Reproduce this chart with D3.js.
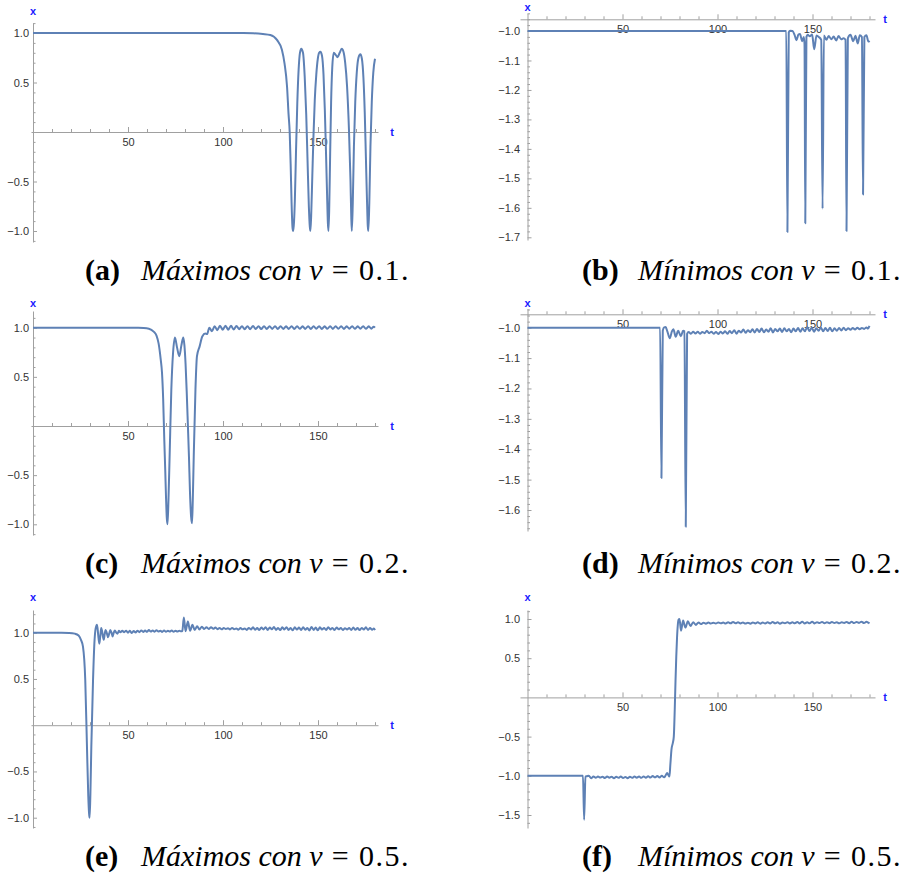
<!DOCTYPE html>
<html>
<head>
<meta charset="utf-8">
<script src="https://cdn.jsdelivr.net/npm/d3@7"></script>
<style>
  body { margin: 0; background: #fff; }
  svg { display: block; }
</style>
</head>
<body>
<svg id="fig" width="912" height="881"></svg>
<script>
// ---- data: [t, x] ----
const maxV01 = [[0,1],[100,1],[110,0.999],[116,0.997],[121,0.99],[124.9,0.98],[128.4,0.93],[131,0.83],[132.4,0.69],[133.7,0.46],[134.5,0.18],[135.1,0],[135.6,-0.32],[136.1,-0.72],[136.6,-0.97],[137,-1],[137.4,-0.9],[137.8,-0.7],[138.4,-0.22],[139.1,0.29],[139.8,0.63],[140.5,0.8],[141.2,0.84],[142.1,0.8],[143,0.56],[143.8,0.18],[144.5,-0.29],[145.2,-0.76],[145.7,-0.96],[146,-1],[146.4,-0.85],[147,-0.45],[147.6,-0.05],[148.3,0.32],[149.1,0.58],[149.9,0.74],[150.6,0.8],[151.3,0.81],[152.1,0.77],[152.9,0.58],[153.6,0.22],[154.2,-0.2],[154.8,-0.65],[155.2,-0.92],[155.5,-1],[155.9,-0.78],[156.4,-0.22],[156.9,0.3],[157.5,0.65],[158.3,0.8],[159.3,0.78],[160.3,0.755],[161.4,0.8],[162.5,0.84],[163.4,0.81],[164.3,0.7],[165.3,0.46],[166.3,0.02],[167.1,-0.49],[167.5,-0.85],[167.8,-1],[168.3,-0.72],[168.9,-0.15],[169.6,0.3],[170.4,0.6],[171.3,0.75],[172.3,0.785],[173.1,0.74],[173.9,0.55],[174.6,0.2],[175.2,-0.25],[175.8,-0.7],[176.2,-0.95],[176.5,-1],[177,-0.72],[177.6,-0.15],[178.3,0.3],[179.1,0.6],[180,0.74]];

const minV01 = [[0,-1],[136.2,-1],[136.8,-1.682],[137.5,-1.005],[138.2,-0.999],[139.5,-1],[140.5,-1.012],[141.6,-1.031],[142.6,-1.012],[143.4,-1.01],[144.6,-1.035],[145.4,-1.02],[145.8,-1.045],[146.2,-1.652],[146.8,-1.02],[147.5,-1.013],[148.6,-1.018],[149.8,-1.012],[150.9,-1.062],[152.1,-1.015],[153.3,-1.02],[154.6,-1.03],[155.3,-1.603],[156,-1.015],[157.3,-1.03],[158.5,-1.017],[159.9,-1.028],[161.1,-1.019],[162.5,-1.032],[163.7,-1.017],[165.1,-1.028],[166.3,-1.025],[167.4,-1.03],[167.9,-1.679],[168.6,-1.025],[170,-1.013],[171.4,-1.035],[172.6,-1.016],[173.8,-1.042],[174.9,-1.014],[176,-1.02],[176.6,-1.555],[177.3,-1.02],[178.4,-1.014],[179.4,-1.036],[180,-1.033]];

const maxV02 = [[0,1],[50,1],[55,0.999],[58.2,0.997],[61,0.99],[63.5,0.96],[65,0.92],[66.1,0.84],[67.2,0.68],[67.9,0.54],[68.5,0.28],[69.1,-0.14],[69.6,-0.45],[70,-0.72],[70.4,-0.93],[70.8,-1],[71.3,-0.75],[71.9,-0.31],[72.8,0.37],[73.7,0.74],[74.7,0.9],[75.8,0.8],[77,0.71],[78.1,0.82],[79.1,0.9],[79.7,0.82],[80.3,0.63],[80.9,0.35],[81.5,0.02],[82.1,-0.32],[82.6,-0.66],[83.2,-0.92],[83.7,-0.99],[84.1,-0.75],[84.6,-0.31],[85.5,0.37],[86.3,0.71],[87.7,0.81],[89.1,0.91],[90.7,0.94],[91.6,0.935],[92.8,1],[94.2,0.965],[95.6,1.015],[97,0.975],[98.4,1.02],[99.9,0.98],[101.3,1.02],[102.8,0.98],[104.2,1.02],[105.6,0.982],[107.1,1.018],[108.5,0.985],[110,1.016],[111.4,0.985],[112.9,1.016],[114.3,0.985],[115.8,1.017],[117.2,0.987],[118.7,1.015],[120.1,0.986],[121.6,1.016],[123,0.987],[124.5,1.015],[125.9,0.988],[127.4,1.016],[128.8,0.987],[130.3,1.015],[131.7,0.988],[133.2,1.014],[134.6,0.988],[136.1,1.016],[137.5,0.987],[139,1.015],[140.4,0.989],[141.9,1.014],[143.3,0.988],[144.8,1.016],[146.2,0.988],[147.7,1.015],[149.1,0.989],[150.6,1.016],[152,0.988],[153.5,1.014],[154.9,0.989],[156.4,1.015],[157.8,0.988],[159.3,1.016],[160.7,0.989],[162.2,1.015],[163.6,0.988],[165.1,1.014],[166.5,0.99],[168,1.015],[169.4,0.989],[170.9,1.014],[172.3,0.99],[173.8,1.015],[175.2,0.989],[176.7,1.014],[178.1,0.99],[179.3,1.01],[180,1]];

const minV02 = [[0,-1],[69.8,-1],[70.5,-1.495],[71.2,-1.01],[71.9,-0.999],[72.7,-0.998],[73.6,-1.012],[74.9,-1.035],[76,-1.012],[76.8,-1.005],[78,-1.03],[79.3,-1.01],[80.7,-1.028],[81.9,-1.01],[82.6,-1.012],[83.3,-1.655],[84,-1.02],[84.8,-1.014],[86,-1.02],[87.2,-1.013],[88.4,-1.019],[89.6,-1.013],[90.8,-1.02],[92,-1.014],[93.2,-1.018],[94.4,-1.01],[95.6,-1.018],[96.8,-1.013],[98,-1.02],[99.2,-1.014],[100.4,-1.021],[101.6,-1.013],[102.8,-1.019],[104,-1.012],[105.2,-1.02],[106.4,-1.011],[107.6,-1.018],[108.8,-1.008],[110,-1.02],[111.2,-1.01],[112.4,-1.016],[113.6,-1.006],[114.8,-1.017],[116,-1.008],[117.2,-1.015],[118.4,-1.005],[119.6,-1.016],[120.8,-1.004],[122,-1.014],[123.2,-1.003],[124.4,-1.015],[125.6,-1.006],[126.8,-1.013],[128,-1.002],[129.2,-1.016],[130.4,-1.004],[131.6,-1.012],[132.8,-1.003],[134,-1.014],[135.2,-1.002],[136.4,-1.012],[137.6,-1.004],[138.8,-1.015],[140,-1.003],[141.2,-1.012],[142.4,-1.001],[143.6,-1.013],[144.8,-1.002],[146,-1.012],[147.2,-0.998],[148.4,-1.011],[149.6,-1],[150.8,-1.013],[152,-1.002],[153.2,-1.01],[154.4,-0.999],[155.6,-1.012],[156.8,-1.001],[158,-1.011],[159.2,-1],[160.4,-1.012],[161.6,-1.002],[162.8,-1.01],[164,-1.001],[165.2,-1.009],[166.4,-1],[167.6,-1.008],[168.8,-1.002],[170,-1.007],[171.2,-1.001],[172.4,-1.006],[173.6,-1],[174.8,-1.005],[176,-1.001],[177.2,-1.004],[178.4,-0.999],[179.2,-1.003],[180,-0.994]];

const maxV05 = [[0,1],[15,1],[19,0.998],[22,0.99],[24,0.97],[25.3,0.92],[26.3,0.85],[27.5,0.49],[28.4,-0.23],[29.1,-0.77],[29.5,-0.95],[29.8,-1],[30.2,-0.75],[30.7,-0.23],[31.6,0.49],[32.4,0.92],[33,1.05],[33.7,1.087],[34.3,0.98],[34.9,0.88],[35.4,0.96],[35.9,1.05],[36.5,1],[37.2,0.924],[37.7,0.98],[38.2,1.03],[38.8,1],[39.5,0.95],[40.1,0.99],[40.7,1.03],[41.3,1],[41.9,0.96],[42.5,1],[43.1,1.025],[43.8,1],[44.5,0.99],[45.2,1.02],[46,1.005],[47,1.02],[48,1.005],[49,1.022],[50,1],[51,1.02],[52,0.997],[53,1.018],[54,1.003],[55,1.022],[56,1.006],[57,1.025],[58,1.008],[59,1.023],[60,1.01],[61,1.028],[62,1.012],[63,1.025],[64,1.01],[65,1.027],[66,1.012],[67,1.022],[68,1.008],[69,1.024],[70,1.01],[71,1.02],[72,1.012],[73,1.025],[74,1.01],[75,1.022],[76,1.012],[77,1.02],[78,1.015],[78.6,1.02],[79.4,1.165],[80.3,1.015],[81.5,1.12],[82.7,1.02],[83.9,1.085],[85.1,1.03],[86.4,1.07],[87.6,1.035],[88.9,1.065],[90.1,1.04],[91.3,1.058],[92.5,1.04],[93.7,1.06],[94.9,1.042],[96,1.055],[97.1,1.038],[98.2,1.052],[99.3,1.036],[100.4,1.05],[101.5,1.04],[102.6,1.048],[103.7,1.035],[104.8,1.052],[105.9,1.038],[107,1.045],[108.1,1.033],[109.2,1.05],[110.3,1.036],[111.4,1.046],[112.5,1.03],[113.6,1.052],[114.7,1.035],[115.8,1.058],[116.9,1.032],[118,1.05],[119.1,1.028],[120.2,1.056],[121.3,1.034],[122.4,1.06],[123.5,1.03],[124.6,1.055],[125.7,1.036],[126.8,1.062],[127.9,1.03],[129,1.052],[130.1,1.028],[131.2,1.058],[132.3,1.035],[133.4,1.06],[134.5,1.03],[135.6,1.05],[136.7,1.026],[137.8,1.058],[138.9,1.034],[140,1.055],[141.1,1.028],[142.2,1.06],[143.3,1.032],[144.4,1.052],[145.5,1.024],[146.6,1.062],[147.7,1.03],[148.8,1.055],[149.9,1.026],[151,1.058],[152.1,1.035],[153.2,1.05],[154.3,1.03],[155.4,1.06],[156.5,1.034],[157.6,1.052],[158.7,1.028],[159.8,1.056],[160.9,1.036],[162,1.05],[163.1,1.03],[164.2,1.048],[165.3,1.035],[166.4,1.05],[167.5,1.03],[168.6,1.055],[169.7,1.032],[170.8,1.05],[171.9,1.028],[173,1.052],[174.1,1.034],[175.2,1.058],[176.3,1.03],[177.4,1.05],[178.5,1.032],[179.4,1.045],[180,1.028]];

const minV05 = [[0,-1],[29.2,-1],[29.8,-1.56],[30.5,-1.01],[31.2,-1.005],[32.3,-0.998],[33.5,-1.03],[34.7,-1.008],[35.9,-1.025],[37.1,-1.01],[38.3,-1.022],[39.5,-1.012],[40.7,-1.028],[41.9,-1.01],[43.1,-1.024],[44.3,-1.012],[45.5,-1.03],[46.7,-1.012],[47.9,-1.026],[49.1,-1.01],[50.3,-1.028],[51.5,-1.014],[52.7,-1.03],[53.9,-1.012],[55.1,-1.026],[56.3,-1.01],[57.5,-1.024],[58.7,-1.01],[59.9,-1.026],[61.1,-1.008],[62.3,-1.024],[63.5,-1.006],[64.7,-1.022],[65.9,-1.004],[67.1,-1.02],[68.3,-1.002],[69.5,-1.022],[70.7,-1],[71.9,-1.02],[72.8,-0.99],[73.5,-0.965],[74.1,-0.99],[74.7,-1.01],[75.2,-0.85],[75.8,-0.66],[76.5,-0.58],[77,-0.5],[77.5,-0.15],[77.9,0.21],[78.3,0.52],[78.7,0.76],[79.1,0.92],[79.5,0.99],[80,1],[80.8,0.85],[81.9,0.98],[83.1,0.89],[84.4,0.97],[85.8,0.91],[87.2,0.96],[88.6,0.925],[90,0.955],[91.3,0.935],[92.6,0.952],[93.9,0.94],[95.2,0.955],[96.5,0.942],[97.8,0.952],[99.1,0.943],[100.4,0.955],[101.7,0.945],[103,0.954],[104.3,0.943],[105.6,0.958],[106.9,0.945],[108.2,0.962],[109.5,0.946],[110.8,0.958],[112.1,0.944],[113.4,0.955],[114.7,0.942],[116,0.953],[117.3,0.94],[118.6,0.955],[119.9,0.944],[121.2,0.957],[122.5,0.941],[123.8,0.955],[125.1,0.943],[126.4,0.958],[127.7,0.944],[129,0.962],[130.3,0.945],[131.6,0.957],[132.9,0.94],[134.2,0.955],[135.5,0.945],[136.8,0.96],[138.1,0.942],[139.4,0.958],[140.7,0.946],[142,0.962],[143.3,0.944],[144.6,0.965],[145.9,0.943],[147.2,0.958],[148.5,0.946],[149.8,0.966],[151.1,0.944],[152.4,0.96],[153.7,0.948],[155,0.963],[156.3,0.945],[157.6,0.96],[158.9,0.947],[160.2,0.962],[161.5,0.948],[162.8,0.958],[164.1,0.945],[165.4,0.96],[166.7,0.95],[168,0.962],[169.3,0.946],[170.6,0.965],[171.9,0.948],[173.2,0.962],[174.5,0.95],[175.8,0.966],[177.1,0.948],[178.4,0.964],[179.3,0.955],[180,0.945]];

// ---- ticks and captions ----
const tMajor = [50, 100, 150];
const tMinor = [10, 20, 30, 40, 60, 70, 80, 90, 110, 120, 130, 140, 160, 170, 180];
const yMajorMax = [1.0, 0.5, -0.5, -1.0];
const yMajorMinV01 = [-1.0, -1.1, -1.2, -1.3, -1.4, -1.5, -1.6, -1.7];
const yMajorMinV02 = [-1.0, -1.1, -1.2, -1.3, -1.4, -1.5, -1.6];
const yMajorMinV05 = [1.0, 0.5, -0.5, -1.0, -1.5];
const capTags = ["(a)", "(b)", "(c)", "(d)", "(e)", "(f)"];
const capWords = ["Máximos", "Mínimos", "Máximos", "Mínimos", "Máximos", "Mínimos"];
const capSpeeds = ["0.1", "0.1", "0.2", "0.2", "0.5", "0.5"];

const lineColor = "#5e81b5";
const axisColor = "#a0a0a0";
const labelColor = "#333";

// layout of each panel (pixels)
const panels = [
  {data: maxV01, ox: 33,    yDomain: [-1, 1],      yRange: [231, 33],      yTop: 23,    yBot: 242, xAxisAt: null,  yMajor: yMajorMax,    yStep: 0.1,  gap: 4,   xLab: 10.7},
  {data: minV01, ox: 527.5, yDomain: [-1.7, -1.0], yRange: [237.3, 31],    yTop: 13.3,  yBot: 240, xAxisAt: 19.3,  yMajor: yMajorMinV01, yStep: 0.02, gap: 7.5, xLab: 7.3},
  {data: maxV02, ox: 33,    yDomain: [-1, 1],      yRange: [524.3, 327.7], yTop: 311,   yBot: 535, xAxisAt: null,  yMajor: yMajorMax,    yStep: 0.1,  gap: 4,   xLab: 303.3},
  {data: minV02, ox: 527.5, yDomain: [-1.6, -1.0], yRange: [510, 327.7],   yTop: 308.5, yBot: 531, xAxisAt: 314.3, yMajor: yMajorMinV02, yStep: 0.02, gap: 7.5, xLab: 303.3},
  {data: maxV05, ox: 33,    yDomain: [-1, 1],      yRange: [817.7, 632.7], yTop: 610,   yBot: 828, xAxisAt: null,  yMajor: yMajorMax,    yStep: 0.1,  gap: 4,   xLab: 597.3},
  {data: minV05, ox: 527.5, yDomain: [-1.5, 1.0],  yRange: [815, 619],     yTop: 610,   yBot: 828, xAxisAt: null,  yMajor: yMajorMinV05, yStep: 0.1,  gap: 7.5, xLab: 597.3}
];

const svg = d3.select("#fig");

function styleAxis(g) {
  g.attr("font-family", "'Liberation Sans', Arial, sans-serif").attr("font-size", 11);
  g.selectAll(".domain").attr("stroke", axisColor).attr("stroke-width", 1);
  g.selectAll(".tick line").attr("stroke", axisColor).attr("stroke-width", 1);
  g.selectAll(".tick text").attr("fill", labelColor);
}

panels.forEach((p, i) => {
  const left = i % 2 === 0;
  const g = svg.append("g");

  const x = d3.scaleLinear().domain([0, 180]).range([p.ox, p.ox + 342]);
  const y = d3.scaleLinear().domain(p.yDomain).range(p.yRange);

  // axis extents
  const xLeft = left ? 31 : 520;
  const xRight = left ? 378 : 875;
  const xAx = d3.scaleLinear().domain([x.invert(xLeft), x.invert(xRight)]).range([xLeft, xRight]);
  const yAx = d3.scaleLinear().domain([y.invert(p.yBot), y.invert(p.yTop)]).range([p.yBot, p.yTop]);
  const axisY = p.xAxisAt === null ? y(0) : p.xAxisAt;

  // horizontal axis
  g.append("g")
    .attr("transform", `translate(0,${axisY})`)
    .call(d3.axisBottom(xAx).tickValues(tMajor).tickSizeInner(-5).tickSizeOuter(0)
      .tickPadding(6).tickFormat(d3.format("d")))
    .call(styleAxis);
  g.append("g")
    .attr("transform", `translate(0,${axisY})`)
    .call(d3.axisBottom(xAx).tickValues(tMinor).tickSize(-3).tickFormat(""))
    .call(styleAxis)
    .call(a => a.select(".domain").remove());

  // vertical axis
  const [lo, hi] = yAx.domain();
  const yMinor = d3.range(Math.ceil(lo / p.yStep - 1e-6), Math.floor(hi / p.yStep + 1e-6) + 1)
    .map(k => +(k * p.yStep).toFixed(3))
    .filter(v => v !== 0 && !p.yMajor.some(m => Math.abs(m - v) < 1e-6));

  g.append("g")
    .attr("transform", `translate(${p.ox},0)`)
    .call(d3.axisLeft(yAx).tickValues(p.yMajor).tickSizeInner(-4).tickSizeOuter(0)
      .tickPadding(p.gap).tickFormat(d3.format(".1f")))
    .call(styleAxis);
  g.append("g")
    .attr("transform", `translate(${p.ox},0)`)
    .call(d3.axisLeft(yAx).tickValues(yMinor).tickSize(-2.5).tickFormat(""))
    .call(styleAxis)
    .call(a => a.select(".domain").remove());

  // axis labels
  g.append("text")
    .attr("x", p.ox).attr("y", p.xLab).attr("dy", "0.35em")
    .attr("text-anchor", "middle")
    .attr("font-family", "'Liberation Sans', Arial, sans-serif")
    .attr("font-size", 11).attr("font-weight", "bold").attr("fill", "#1a1aff")
    .text("x");
  g.append("text")
    .attr("x", left ? 392 : 885).attr("y", axisY).attr("dy", "0.35em")
    .attr("text-anchor", "middle")
    .attr("font-family", "'Liberation Sans', Arial, sans-serif")
    .attr("font-size", 11).attr("font-weight", "bold").attr("fill", "#1a1aff")
    .text("t");

  // curve
  const line = d3.line()
    .x(d => x(d[0]))
    .y(d => y(d[1]))
    .curve(d3.curveMonotoneX);

  g.append("path")
    .datum(p.data)
    .attr("fill", "none")
    .attr("stroke", lineColor)
    .attr("stroke-width", 2)
    .attr("stroke-linejoin", "round")
    .attr("d", line);

  // caption
  const capX = left ? 85 : 582;
  const capY = 280 + Math.floor(i / 2) * 293;
  const cap = svg.append("text")
    .attr("x", capX).attr("y", capY)
    .attr("font-family", "'Liberation Serif', 'Times New Roman', serif")
    .attr("font-size", 30).attr("fill", "#000");
  cap.append("tspan").attr("font-weight", "bold").text(capTags[i]);
  cap.append("tspan").attr("x", capX + 56).attr("font-style", "italic").text(capWords[i] + " con ");
  cap.append("tspan").attr("font-style", "italic").text("v");
  cap.append("tspan").attr("letter-spacing", "1.5px").text(" = " + capSpeeds[i] + ".");
});
</script>
</body>
</html>
